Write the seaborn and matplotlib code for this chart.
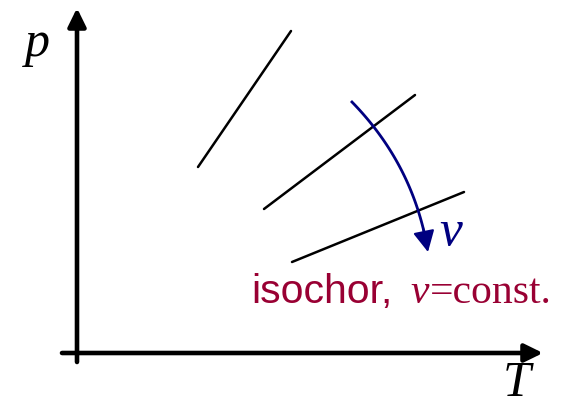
import numpy as np
import pandas as pd
import seaborn as sns
import matplotlib.pyplot as plt

# isochors in the p-T diagram, in picture pixel units (y grows downwards)
seg_id = [0, 0, 1, 1, 2, 2]
seg_T = [198, 291, 264, 415, 292, 464]
seg_p = [167, 31, 209, 95, 262, 192]

# direction of increasing specific volume (quadratic bezier: start, control, end)
v_arrow = np.array([[351, 101], [414, 165], [428, 252]])

navy = "#000080"
maroon = "#990033"

sns.set_theme(style="white")
plt.rcParams["font.family"] = ["DejaVu Sans"]

df = pd.DataFrame({"seg": seg_id, "T": seg_T, "p": seg_p})

fig = plt.figure(figsize=(5.7, 4.08), dpi=100)
ax = fig.add_axes([0, 0, 1, 1])

sns.lineplot(data=df, x="T", y="p", units="seg", estimator=None,
             color="black", linewidth=1.8, ax=ax, legend=False)

ax.set_xlim(0, 570)
ax.set_ylim(408, 0)
ax.set_axis_off()

# axes with arrows
head = "-|>,head_length=0.55,head_width=0.27"
ax.annotate("", xy=(77, 8), xytext=(77, 362),
            arrowprops=dict(arrowstyle=head, mutation_scale=20, lw=3.3,
                            color="black", shrinkA=0, shrinkB=0))
ax.annotate("", xy=(543, 353), xytext=(62, 353),
            arrowprops=dict(arrowstyle=head, mutation_scale=20, lw=3.3,
                            color="black", shrinkA=0, shrinkB=0))

# curved arrow
t = np.linspace(0, 1, 100)[:, None]
curve = (1 - t) ** 2 * v_arrow[0] + 2 * t * (1 - t) * v_arrow[1] + t ** 2 * v_arrow[2]
ax.plot(curve[:90, 0], curve[:90, 1], color=navy, lw=2, solid_capstyle="butt")
ax.annotate("", xy=tuple(curve[-1]), xytext=tuple(curve[85]),
            arrowprops=dict(arrowstyle="-|>,head_length=0.65,head_width=0.33",
                            mutation_scale=20, lw=1.5, color=navy,
                            shrinkA=0, shrinkB=0))

serif = ["Liberation Serif", "DejaVu Serif"]
sans = ["Liberation Sans", "DejaVu Sans"]
ax.text(37, 56, "p", fontsize=36, style="italic", family=serif, color="black",
        ha="center", va="baseline")
ax.text(517, 407, "T", fontsize=36, style="italic", family=serif, color="black",
        ha="center", va="bottom")
ax.text(451, 245, "v", fontsize=37, style="italic", family=serif,
        ha="center", va="baseline", color=navy)

ax.text(251, 303, "isochor,", fontsize=29.5, family=sans, color=maroon,
        ha="left", va="baseline")
ax.text(410, 303, "v", fontsize=30, style="italic", family=serif, color=maroon,
        ha="left", va="baseline")
ax.text(430, 303, "=const.", fontsize=30, family=serif, color=maroon,
        ha="left", va="baseline")

plt.savefig("out.png", dpi=100)
